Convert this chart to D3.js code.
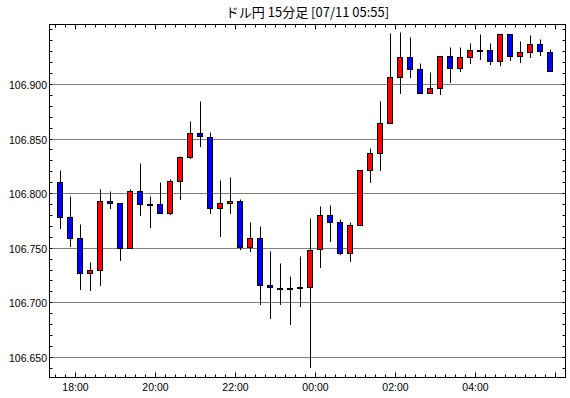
<!DOCTYPE html>
<html>
<head>
<meta charset="utf-8">
<script src="https://cdn.jsdelivr.net/npm/d3@7"></script>
<style>
  body { margin: 0; background: #fff; }
  text { font-family: "Liberation Sans", Arial, sans-serif; }
</style>
</head>
<body>
<svg id="chart-svg"></svg>
<script>
// Datos (ドル円 15分足)
const TITLE = "ドル円 15分足 [07/11 05:55]";

const times = [
  "07/10 17:30", "07/10 17:45", "07/10 18:00", "07/10 18:15", "07/10 18:30", "07/10 18:45",
  "07/10 19:00", "07/10 19:15", "07/10 19:30", "07/10 19:45", "07/10 20:00", "07/10 20:15",
  "07/10 20:30", "07/10 20:45", "07/10 21:00", "07/10 21:15", "07/10 21:30", "07/10 21:45",
  "07/10 22:00", "07/10 22:15", "07/10 22:30", "07/10 22:45", "07/10 23:00", "07/10 23:15",
  "07/10 23:30", "07/10 23:45", "07/11 00:00", "07/11 00:15", "07/11 00:30", "07/11 00:45",
  "07/11 01:00", "07/11 01:15", "07/11 01:30", "07/11 01:45", "07/11 02:00", "07/11 02:15",
  "07/11 02:30", "07/11 02:45", "07/11 03:00", "07/11 03:15", "07/11 03:30", "07/11 03:45",
  "07/11 04:00", "07/11 04:15", "07/11 04:30", "07/11 04:45", "07/11 05:00", "07/11 05:15",
  "07/11 05:30", "07/11 05:45"
];

const open = [
  106.810, 106.778, 106.759, 106.727, 106.730, 106.793, 106.791, 106.750, 106.802, 106.790,
  106.790, 106.782, 106.811, 106.833, 106.855, 106.851, 106.786, 106.791, 106.793, 106.751,
  106.759, 106.716, 106.713, 106.713, 106.713, 106.714, 106.749, 106.780, 106.774, 106.745,
  106.771, 106.821, 106.837, 106.864, 106.906, 106.925, 106.914, 106.892, 106.896, 106.926,
  106.915, 106.925, 106.931, 106.931, 106.921, 106.946, 106.926, 106.929, 106.937, 106.929
];
const high = [
  106.821, 106.797, 106.772, 106.737, 106.804, 106.802, 106.791, 106.804, 106.828, 106.797,
  106.810, 106.813, 106.834, 106.866, 106.884, 106.856, 106.812, 106.815, 106.795, 106.774,
  106.770, 106.747, 106.736, 106.724, 106.742, 106.777, 106.788, 106.789, 106.776, 106.774,
  106.821, 106.841, 106.884, 106.947, 106.948, 106.943, 106.919, 106.911, 106.926, 106.934,
  106.934, 106.938, 106.946, 106.938, 106.946, 106.946, 106.939, 106.945, 106.941, 106.932
];
const low = [
  106.768, 106.752, 106.712, 106.711, 106.716, 106.786, 106.739, 106.750, 106.780, 106.769,
  106.782, 106.781, 106.795, 106.832, 106.843, 106.782, 106.761, 106.782, 106.749, 106.747,
  106.698, 106.686, 106.698, 106.680, 106.697, 106.641, 106.732, 106.756, 106.744, 106.738,
  106.771, 106.810, 106.821, 106.864, 106.892, 106.906, 106.892, 106.892, 106.891, 106.902,
  106.912, 106.919, 106.923, 106.918, 106.917, 106.922, 106.920, 106.925, 106.927, 106.912
];
const close = [
  106.778, 106.759, 106.727, 106.730, 106.793, 106.791, 106.750, 106.802, 106.790, 106.790,
  106.782, 106.811, 106.833, 106.855, 106.852, 106.786, 106.791, 106.793, 106.751, 106.759,
  106.716, 106.714, 106.713, 106.713, 106.714, 106.748, 106.780, 106.774, 106.745, 106.771,
  106.821, 106.837, 106.864, 106.906, 106.925, 106.914, 106.892, 106.896, 106.926, 106.915,
  106.925, 106.931, 106.931, 106.921, 106.946, 106.926, 106.929, 106.937, 106.930, 106.912
];

// Ejes
const yLabels = [106.650, 106.700, 106.750, 106.800, 106.850, 106.900];
const xLabels = ["07/10 18:00", "07/10 20:00", "07/10 22:00", "07/11 00:00", "07/11 02:00", "07/11 04:00"];
const Y_DOMAIN = [106.6315, 106.955];
const X_DOMAIN = ["07/10 17:21", "07/11 06:15"];

// Configuración
const WIDTH = 570;
const HEIGHT = 398;
const MARGIN = { top: 24.5, bottom: 20.5, left: 49.5, right: 4.5 };

const UP_COLOR = "#ff0000";
const DOWN_COLOR = "#0000ff";

const parse = d3.timeParse("%m/%d %H:%M");
const CANDLE_MS = 15 * 60 * 1000;

const candles = times.map((t, i) => ({
    t: new Date(parse(t).getTime() + CANDLE_MS / 2),
    o: open[i], h: high[i], l: low[i], c: close[i]
}));

const svg = d3.select("svg#chart-svg")
                .attr("width", WIDTH)
                .attr("height", HEIGHT);

const x = d3.scaleTime()
            .domain(X_DOMAIN.map(parse))
            .range([MARGIN.left, WIDTH - MARGIN.right]);

const y = d3.scaleLinear()
            .domain(Y_DOMAIN)
            .range([HEIGHT - MARGIN.bottom, MARGIN.top]);

const snap = v => Math.floor(v) + 0.5;

const x0 = MARGIN.left, x1 = WIDTH - MARGIN.right;
const y0 = MARGIN.top, y1 = HEIGHT - MARGIN.bottom;

// Titulo
svg.append("text")
    .attr("x", (x0 + x1) / 2)
    .attr("y", 17)
    .attr("text-anchor", "middle")
    .style("font-family", "'Noto Sans CJK JP', sans-serif")
    .style("font-size", "13px")
    .text(TITLE);

// Grilla horizontal (punteada)
svg.append("g")
    .selectAll("line.grid")
    .data(yLabels)
    .join("line")
        .attr("class", "grid")
        .attr("x1", x0).attr("x2", x1)
        .attr("y1", d => snap(y(d))).attr("y2", d => snap(y(d)))
        .attr("stroke", "#000")
        .attr("stroke-width", 1)
        .attr("stroke-dasharray", "1,1");

// Ticks Y (cada 0.01), izquierda y derecha
const yTicks = d3.range(Math.ceil(Y_DOMAIN[0] * 100), Math.floor(Y_DOMAIN[1] * 100) + 1).map(v => v / 100);

const tickG = svg.append("g").attr("stroke", "#000").attr("stroke-width", 1);

tickG.selectAll("line.ytl")
    .data(yTicks)
    .join("line")
        .attr("x1", x0).attr("x2", x0 + 3)
        .attr("y1", d => snap(y(d))).attr("y2", d => snap(y(d)));

tickG.selectAll("line.ytr")
    .data(yTicks)
    .join("line")
        .attr("class", "ytr")
        .attr("x1", x1).attr("x2", x1 - 3)
        .attr("y1", d => snap(y(d))).attr("y2", d => snap(y(d)));

// Ticks X (cada 15 min, mayores cada 2 horas), arriba y abajo
const xTicks = d3.timeMinute.every(15).range(x.domain()[0], x.domain()[1]);
const isMajor = d => d.getMinutes() === 0 && d.getHours() % 2 === 0;

tickG.selectAll("line.xtb")
    .data(xTicks)
    .join("line")
        .attr("class", "xtb")
        .attr("x1", d => snap(x(d))).attr("x2", d => snap(x(d)))
        .attr("y1", y1).attr("y2", d => y1 - (isMajor(d) ? 5 : 3));

tickG.selectAll("line.xtt")
    .data(xTicks)
    .join("line")
        .attr("class", "xtt")
        .attr("x1", d => snap(x(d))).attr("x2", d => snap(x(d)))
        .attr("y1", y0).attr("y2", d => y0 + (isMajor(d) ? 5 : 3));

// Etiquetas
svg.append("g")
    .selectAll("text")
    .data(yLabels)
    .join("text")
        .attr("x", x0 - 2.5)
        .attr("y", d => snap(y(d)) + 4)
        .attr("text-anchor", "end")
        .style("font-size", "10.5px")
        .text(d3.format(".3f"));

svg.append("g")
    .selectAll("text")
    .data(xLabels.map(parse))
    .join("text")
        .attr("x", d => snap(x(d)))
        .attr("y", 391)
        .attr("text-anchor", "middle")
        .style("font-size", "10.5px")
        .text(d3.timeFormat("%H:%M"));

// Velas
const velas = svg.append("g").attr("id", "velas");

velas.selectAll("line.mecha")
    .data(candles)
    .join("line")
        .attr("class", "mecha")
        .attr("x1", d => snap(x(d.t))).attr("x2", d => snap(x(d.t)))
        .attr("y1", d => snap(y(d.h))).attr("y2", d => snap(y(d.l)) + 0.5)
        .attr("stroke", "#000")
        .attr("stroke-width", 1);

velas.selectAll("rect.cuerpo")
    .data(candles)
    .join("rect")
        .attr("class", "cuerpo")
        .attr("x", d => snap(x(d.t)) - 3)
        .attr("width", 5)
        .attr("y", d => snap(y(Math.max(d.o, d.c))))
        .attr("height", d => Math.max(snap(y(Math.min(d.o, d.c))) - snap(y(Math.max(d.o, d.c))), 1))
        .attr("fill", d => d.c >= d.o ? UP_COLOR : DOWN_COLOR)
        .attr("stroke", "#000")
        .attr("stroke-width", 1);

// Marco
svg.append("rect")
    .attr("x", x0).attr("y", y0)
    .attr("width", x1 - x0).attr("height", y1 - y0)
    .attr("fill", "none")
    .attr("stroke", "#000")
    .attr("stroke-width", 1);
</script>
</body>
</html>
